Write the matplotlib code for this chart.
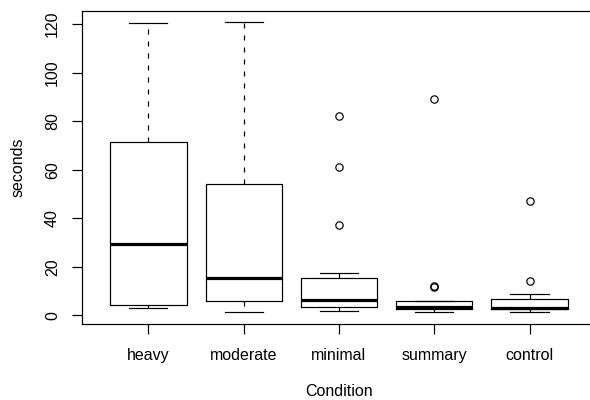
#!/usr/bin/python3

# Boxplot of the time (seconds) spent per condition, drawn in the
# style of an R base graphics boxplot.

import matplotlib
matplotlib.use("Agg")
import matplotlib.pyplot as plt

conditions = ["heavy", "moderate", "minimal", "summary", "control"]
whislo = [2.9, 1.2, 1.9, 1.2, 1.4]
q1 = [4.1, 5.8, 3.4, 2.8, 2.6]
med = [29.2, 15.5, 6.3, 3.5, 3.0]
q3 = [71.6, 54.0, 15.5, 5.8, 6.7]
whishi = [120.4, 120.7, 17.4, 6.0, 8.8]
fliers = [[], [], [82.1, 61.3, 37.3], [89.0, 12.2, 11.7], [47.0, 14.0]]
yticks = [0, 20, 40, 60, 80, 100, 120]

plt.rcParams["font.family"] = ["Liberation Sans", "DejaVu Sans"]
plt.rcParams["font.size"] = 12

def build_stats():
    """Return the list of stats dicts expected by Axes.bxp"""
    return [dict(label=c, whislo=lo, q1=a, med=m, q3=b, whishi=hi,
                 fliers=f)
            for c, lo, a, m, b, hi, f in zip(conditions, whislo, q1, med,
                                             q3, whishi, fliers)]

def plot(outfile):
    fig = plt.figure(figsize=(590 / 96, 400 / 96), dpi=96)
    # right edge goes a bit past the figure, as in the original
    ax = fig.add_axes([0.1385, 0.19, 0.872, 0.783])

    lw = 0.9
    ax.bxp(build_stats(), widths=0.8, capwidths=0.4,
           boxprops=dict(color="black", linewidth=lw),
           medianprops=dict(color="black", linewidth=2.4,
                            solid_capstyle="butt"),
           whiskerprops=dict(color="black", linewidth=lw,
                             linestyle=(0, (4.2, 5.8))),
           capprops=dict(color="black", linewidth=lw),
           flierprops=dict(marker="o", markersize=5.5,
                           markerfacecolor="none",
                           markeredgecolor="black", markeredgewidth=lw))

    # R style 4% axis expansion
    n = len(conditions)
    ax.set_xlim(0.5 - 0.04 * n, n + 0.5 + 0.04 * n)
    allv = whislo + whishi + [v for f in fliers for v in f]
    lo, hi = min(allv), max(allv)
    pad = 0.04 * (hi - lo)
    ax.set_ylim(lo - pad, hi + pad)

    ax.set_yticks(yticks)
    ax.set_yticklabels([str(t) for t in yticks], rotation=90, va="center")
    ax.set_xticks(range(1, n + 1))
    ax.set_xticklabels(conditions)
    ax.tick_params(axis="both", length=7.2, width=lw, color="black",
                   labelcolor="black")
    ax.tick_params(axis="y", pad=9)
    ax.tick_params(axis="x", pad=11)

    for side in ax.spines.values():
        side.set_linewidth(lw)
        side.set_color("black")
    ax.spines["right"].set_visible(False)

    ax.set_xlabel("Condition", va="center")
    ax.set_ylabel("seconds", va="center")
    ax.xaxis.set_label_coords((339 - 81.7) / 514.6, -0.217)
    ax.yaxis.set_label_coords(-0.124, 0.5)

    fig.savefig(outfile, dpi=96)

def main():
    plot("out.png")

if __name__ == "__main__":
    main()
